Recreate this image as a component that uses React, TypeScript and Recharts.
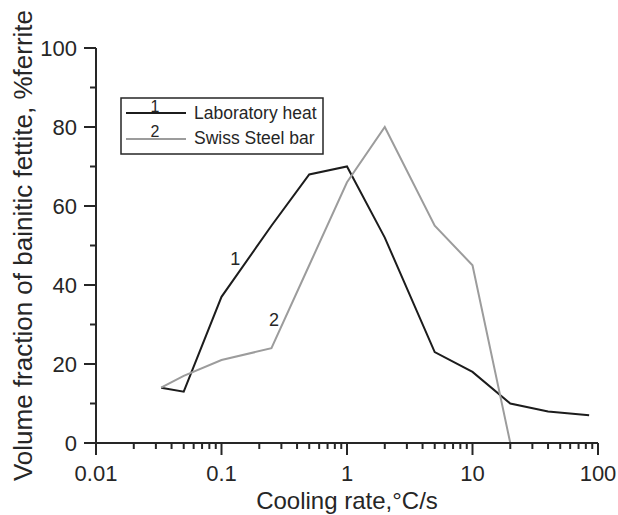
import { LineChart, Line, XAxis, YAxis, Legend, ReferenceDot } from "recharts"

// cooling rate (°C/s) vs volume fraction of bainitic ferrite (%)
const labRates = [0.033, 0.05, 0.1, 0.25, 0.5, 1, 2, 5, 10, 20, 40, 85]
const labFerrite = [14, 13, 37, 55, 68, 70, 52, 23, 18, 10, 8, 7]
const swissRates = [0.033, 0.05, 0.1, 0.25, 0.5, 1, 2, 5, 10, 20]
const swissFerrite = [14, 17, 21, 24, 45, 66, 80, 55, 45, 0]

const xMajorTicks = [0.01, 0.1, 1, 10, 100]
const xMinorTicks = [
  0.02, 0.03, 0.04, 0.05, 0.06, 0.07, 0.08, 0.09,
  0.2, 0.3, 0.4, 0.5, 0.6, 0.7, 0.8, 0.9,
  2, 3, 4, 5, 6, 7, 8, 9,
  20, 30, 40, 50, 60, 70, 80, 90,
]
const yMajorTicks = [0, 20, 40, 60, 80, 100]
const yMinorTicks = [10, 30, 50, 70, 90]

// curve numbers written next to the lines
const curveTags = [
  { tag: "1", rate: 0.129, ferrite: 46.7 },
  { tag: "2", rate: 0.262, ferrite: 31.3 },
]

const labData = labRates.map((rate, i) => ({ rate, ferrite: labFerrite[i] }))
const swissData = swissRates.map((rate, i) => ({ rate, ferrite: swissFerrite[i] }))

const FONT = '"Liberation Sans", Arial, Helvetica, sans-serif'
const INK = "#262626"

function XTick(props: any) {
  const { x, y, payload } = props
  const major = xMajorTicks.includes(payload.value)
  return (
    <g>
      <line x1={x} x2={x} y1={y} y2={y + (major ? 12 : 6)} stroke={INK} strokeWidth={2} />
      {major && (
        <text x={x} y={y + 38} textAnchor="middle" fontSize={22} fontFamily={FONT} fill={INK}>
          {payload.value}
        </text>
      )}
    </g>
  )
}

function YTick(props: any) {
  const { x, y, payload } = props
  const major = yMajorTicks.includes(payload.value)
  return (
    <g>
      <line x1={x} x2={x - (major ? 12 : 6)} y1={y} y2={y} stroke={INK} strokeWidth={2} />
      {major && (
        <text x={x - 19} y={y + 8} textAnchor="end" fontSize={22} fontFamily={FONT} fill={INK}>
          {payload.value}
        </text>
      )}
    </g>
  )
}

function LegendBox(props: any) {
  const { payload = [] } = props
  return (
    <svg width={204} height={58} style={{ display: "block" }}>
      <rect x={1} y={1} width={202} height={56} fill="#fff" stroke={INK} strokeWidth={1.5} />
      {payload.map((entry: any, i: number) => (
        <g key={entry.value}>
          <line x1={6} x2={66} y1={16 + i * 26} y2={16 + i * 26} stroke={entry.color} strokeWidth={2} />
          <text x={35} y={15 + i * 25} textAnchor="middle" fontSize={16} fontFamily={FONT} fill={INK}>
            {i + 1}
          </text>
          <text x={74} y={22 + i * 24.5} fontSize={17.5} fontFamily={FONT} fill={INK}>
            {entry.value}
          </text>
        </g>
      ))}
    </svg>
  )
}

export default function App() {
  return (
    <div style={{ position: "absolute", left: 0, top: 0, background: "#fff" }}>
      <LineChart width={618} height={515} margin={{ top: 48, right: 20, bottom: 0, left: 0 }}>
        <XAxis
          type="number"
          dataKey="rate"
          scale="log"
          domain={[0.01, 100]}
          allowDataOverflow
          ticks={[...xMinorTicks, ...xMajorTicks]}
          interval={0}
          tick={XTick}
          tickLine={false}
          tickSize={0}
          tickMargin={0}
          height={72}
          axisLine={{ stroke: INK, strokeWidth: 2 }}
          label={(p: any) => {
            const vb = p.viewBox
            return (
              <text x={vb.x + vb.width / 2} y={vb.y + 66} textAnchor="middle" fontSize={24} fontFamily={FONT} fill={INK}>
                Cooling rate,°C/s
              </text>
            )
          }}
        />
        <YAxis
          type="number"
          domain={[0, 100]}
          ticks={[...yMinorTicks, ...yMajorTicks]}
          interval={0}
          tick={YTick}
          tickLine={false}
          tickSize={0}
          tickMargin={0}
          width={96}
          axisLine={{ stroke: INK, strokeWidth: 2 }}
          label={(p: any) => {
            const vb = p.viewBox
            const cx = 32
            const cy = vb.y + vb.height / 2
            return (
              <text
                x={cx}
                y={cy}
                transform={`rotate(-90, ${cx}, ${cy})`}
                textAnchor="middle"
                fontSize={26}
                fontFamily={FONT}
                fill={INK}
              >
                Volume fraction of bainitic fettite, %ferrite
              </text>
            )
          }}
        />
        <Legend
          layout="horizontal"
          verticalAlign="middle"
          align="center"
          content={LegendBox}
          wrapperStyle={{ left: 120, top: 97, width: 204, height: 58 }}
        />
        <Line
          data={labData}
          dataKey="ferrite"
          name="Laboratory heat"
          stroke="#1c1c1c"
          strokeWidth={2}
          dot={false}
          isAnimationActive={false}
        />
        <Line
          data={swissData}
          dataKey="ferrite"
          name="Swiss Steel bar"
          stroke="#9c9c9c"
          strokeWidth={2}
          dot={false}
          isAnimationActive={false}
        />
        {curveTags.map((t) => (
          <ReferenceDot
            key={t.tag}
            x={t.rate}
            y={t.ferrite}
            r={0}
            stroke="none"
            fill="none"
            label={{ value: t.tag, position: "center", fontSize: 18, fontFamily: FONT, fill: INK }}
          />
        ))}
      </LineChart>
    </div>
  )
}
